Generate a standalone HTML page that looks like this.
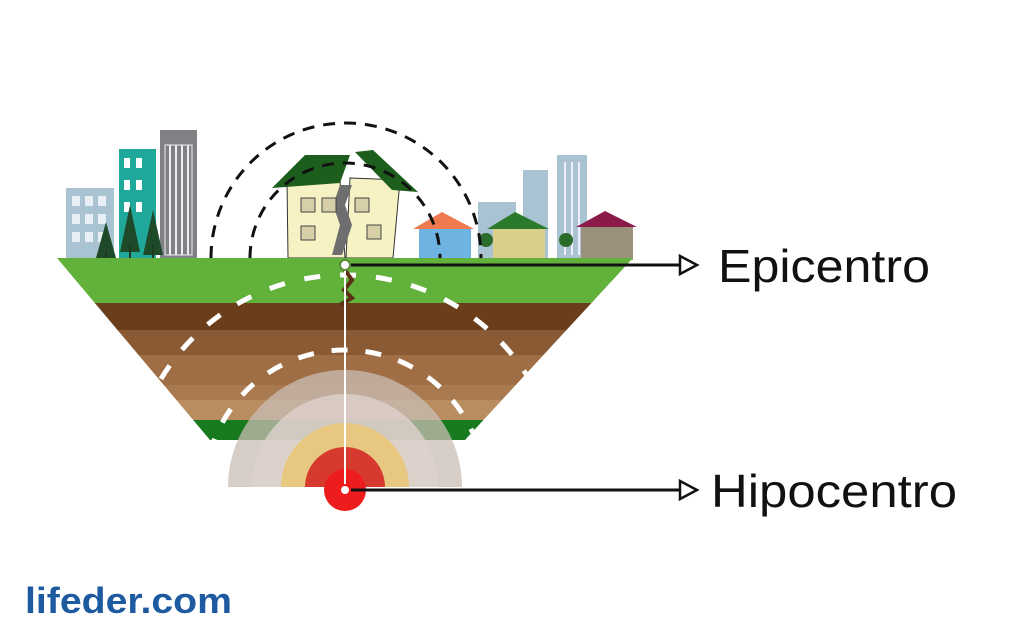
<!DOCTYPE html>
<html><head><meta charset="utf-8"><style>
html,body{margin:0;padding:0;background:#fff;width:1024px;height:638px;overflow:hidden;position:relative}
svg{display:block;position:absolute;left:0;top:0;overflow:hidden}
</style></head><body>
<svg width="1024" height="638" viewBox="0 0 1024 638" xmlns="http://www.w3.org/2000/svg">
<defs>
<clipPath id="trap"><polygon points="57,258 633,258 465,440 210,440"/></clipPath>
</defs>
<rect x="66" y="188" width="48" height="72" fill="#a9c3d3"/>
<g fill="#e8f0f5">
<rect x="72" y="196" width="8" height="10"/><rect x="85" y="196" width="8" height="10"/><rect x="98" y="196" width="8" height="10"/>
<rect x="72" y="214" width="8" height="10"/><rect x="85" y="214" width="8" height="10"/><rect x="98" y="214" width="8" height="10"/>
<rect x="72" y="232" width="8" height="10"/><rect x="85" y="232" width="8" height="10"/><rect x="98" y="232" width="8" height="10"/>
</g>
<rect x="119" y="149" width="37" height="111" fill="#20a89a"/>
<g fill="#fff"><rect x="124" y="158" width="6" height="10"/><rect x="136" y="158" width="6" height="10"/><rect x="124" y="180" width="6" height="10"/><rect x="136" y="180" width="6" height="10"/><rect x="124" y="202" width="6" height="10"/><rect x="136" y="202" width="6" height="10"/></g>
<rect x="160" y="130" width="37" height="130" fill="#7f8185"/>
<rect x="165" y="145" width="27" height="110" fill="none" stroke="#eee" stroke-width="1"/>
<g stroke="#eee" stroke-width="2">
<line x1="170" y1="145" x2="170" y2="255"/><line x1="176" y1="145" x2="176" y2="255"/><line x1="182" y1="145" x2="182" y2="255"/><line x1="188" y1="145" x2="188" y2="255"/>
</g>
<g fill="#1f4a2a">
<polygon points="106,222 96,258 116,258"/><polygon points="130,205 120,252 140,252"/><polygon points="153,210 143,255 163,255"/>
</g>
<g stroke="#1f3a1f" stroke-width="2"><line x1="106" y1="250" x2="106" y2="296"/><line x1="130" y1="245" x2="130" y2="296"/><line x1="153" y1="245" x2="153" y2="296"/></g>
<rect x="478" y="202" width="38" height="58" fill="#a9c3d3"/>
<rect x="523" y="170" width="25" height="90" fill="#a9c3d3"/>
<rect x="557" y="155" width="30" height="105" fill="#a9c3d3"/>
<g stroke="#eef" stroke-width="2"><line x1="565" y1="162" x2="565" y2="255"/><line x1="572" y1="162" x2="572" y2="255"/><line x1="579" y1="162" x2="579" y2="255"/></g>
<rect x="419" y="228" width="52" height="32" fill="#6db4e3"/><polygon points="413,229 442,212 474,229" fill="#f07a50"/>
<rect x="493" y="228" width="52" height="32" fill="#d9cf8a"/><polygon points="487,229 515,212 549,229" fill="#2b7a2b"/>
<rect x="581" y="226" width="52" height="34" fill="#9b907a"/><polygon points="576,227 605,211 637,227" fill="#8b1a4a"/>
<g fill="#2b6b2b"><circle cx="486" cy="240" r="7"/><circle cx="566" cy="240" r="7"/></g>
<polygon points="287,180 340,180 345,258 288,258" fill="#f7f2c4" stroke="#333"/>
<polygon points="350,178 400,180 393,258 346,258" fill="#f7f2c4" stroke="#333"/>
<polygon points="272,188 305,155 350,155 340,183" fill="#1d5e1d"/>
<polygon points="355,152 373,150 418,192 392,190" fill="#1d5e1d"/>
<polygon points="340,185 352,185 345,205 352,225 342,255 332,255 340,225 333,205" fill="#6e6e6e"/>
<g fill="#d6cfa8" stroke="#444"><rect x="301" y="198" width="14" height="14"/><rect x="322" y="198" width="14" height="14"/><rect x="355" y="198" width="14" height="14"/><rect x="301" y="226" width="14" height="14"/><rect x="367" y="225" width="14" height="14"/></g>
<path d="M211,258 A135,135 0 0 1 481,258" fill="none" stroke="#111" stroke-width="3" stroke-dasharray="12,9"/>
<path d="M250,258 A95,95 0 0 1 440,258" fill="none" stroke="#111" stroke-width="3" stroke-dasharray="12,9"/>
<g clip-path="url(#trap)">
<rect x="0" y="258" width="700" height="46" fill="#62b13a"/>
<rect x="0" y="303" width="700" height="27" fill="#6b3e1b"/>
<rect x="0" y="330" width="700" height="25" fill="#8a5a34"/>
<rect x="0" y="355" width="700" height="30" fill="#a06e44"/>
<rect x="0" y="385" width="700" height="15" fill="#a97a4f"/>
<rect x="0" y="400" width="700" height="20" fill="#b98d60"/>
<rect x="0" y="420" width="700" height="20" fill="#187a1f"/>
</g>
<path d="M228,487 A117,117 0 0 1 462,487 Z" fill="#c9bdb6" fill-opacity="0.75"/>
<path d="M252,487 A93,93 0 0 1 438,487 Z" fill="#ddd2cc" fill-opacity="0.8"/>
<path d="M281,487 A64,64 0 0 1 409,487 Z" fill="#e8c880"/>
<path d="M305,487 A40,40 0 0 1 385,487 Z" fill="#d63a2e"/>
<circle cx="345" cy="490" r="21" fill="#ee1c1c"/>
<g clip-path="url(#trap)">
<circle cx="345" cy="490" r="215" fill="none" stroke="#fff" stroke-width="5" stroke-dasharray="16,20"/>
<circle cx="345" cy="490" r="140" fill="none" stroke="#fff" stroke-width="5" stroke-dasharray="16,18"/>
</g>
<path d="M345,270 L352,280 L344,290 L352,298 L340,305" fill="none" stroke="#5a3016" stroke-width="4"/>
<line x1="345" y1="265" x2="345" y2="488" stroke="#fff" stroke-width="2"/>
<circle cx="345" cy="265" r="5" fill="#fff" stroke="#5a8a3a" stroke-width="2"/>
<circle cx="345" cy="490" r="5" fill="#fff" stroke="#ee1c1c" stroke-width="2"/>
<line x1="351" y1="265" x2="680" y2="265" stroke="#111" stroke-width="3"/>
<polygon points="680,256 697,265 680,274" fill="#fff" stroke="#111" stroke-width="2.5"/>
<line x1="351" y1="490" x2="680" y2="490" stroke="#111" stroke-width="3"/>
<polygon points="680,481 697,490 680,499" fill="#fff" stroke="#111" stroke-width="2.5"/>
<text x="718" y="282" font-family="Liberation Sans, sans-serif" font-size="46" fill="#111" textLength="212" lengthAdjust="spacingAndGlyphs">Epicentro</text>
<text x="711" y="507" font-family="Liberation Sans, sans-serif" font-size="46" fill="#111" textLength="246" lengthAdjust="spacingAndGlyphs">Hipocentro</text>
<text x="25" y="613" font-family="Liberation Sans, sans-serif" font-size="36" font-weight="bold" fill="#1e5aa0" textLength="207" lengthAdjust="spacingAndGlyphs">lifeder.com</text>
</svg>
</body></html>
